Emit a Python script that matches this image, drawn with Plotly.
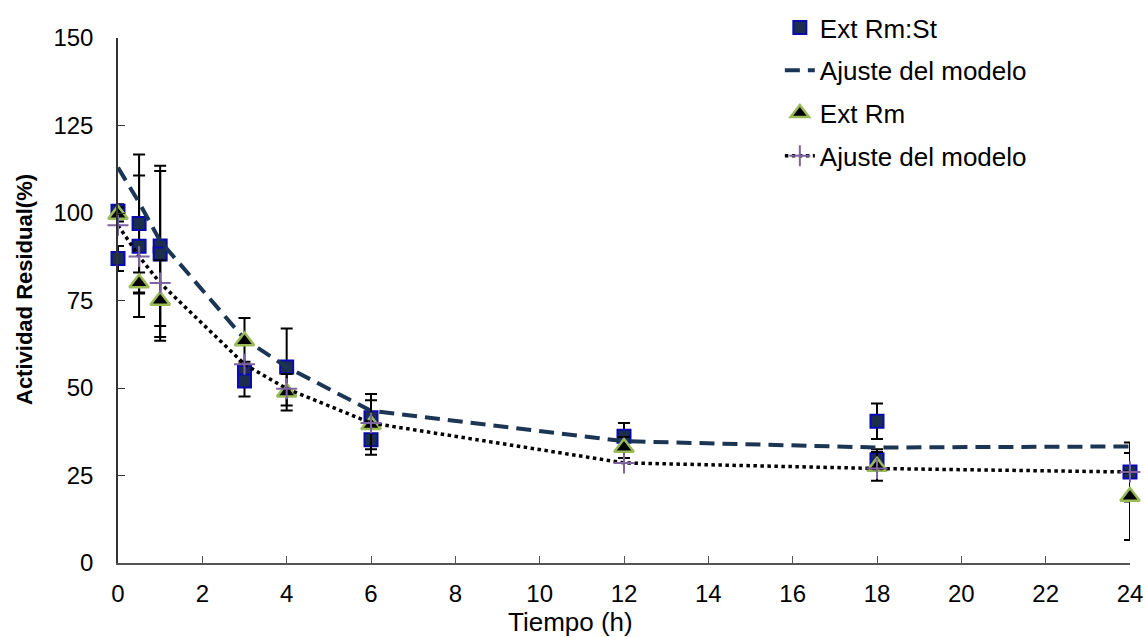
import plotly.graph_objects as go

# Ext Rm:St (squares) - replicate points, time (h), residual activity (%)
st_t = [0, 0, 0.5, 0.5, 1, 1, 3, 3, 4, 6, 6, 12, 18, 18, 24]
st_y = [100.5, 87, 97, 90.5, 90.6, 88.3, 54.5, 52, 56, 41.5, 35.2, 36.2, 40.5, 29.5, 26]
st_err = [2, 3.6, 19.7, 20.2, 22.9, 23.7, 3, 4.4, 11, 6.8, 4.3, 3.8, 5.1, 3, 8.4]

# Ext Rm (triangles)
rm_t = [0, 0.5, 1, 3, 4, 6, 12, 18, 24]
rm_y = [99.6, 80, 75, 63.4, 48.8, 39.5, 33, 27.6, 19]
rm_err = [2, 3, 11.5, 6.6, 5.2, 7, 3, 4.1, 12.4]

# Model fits
fit_t = [0, 0.5, 1, 3, 4, 6, 12, 18, 24]
fit_st = [113, 103, 92, 64, 56, 43.5, 34.8, 33, 33.3]
fit_rm = [96.5, 87.6, 80, 56.8, 49.8, 40, 28.6, 27, 26]

x_ticks = list(range(0, 25, 2))
y_ticks = [0, 25, 50, 75, 100, 125, 150]

FONT = "Liberation Sans, Arial, sans-serif"

L, R, T, B = 118, 16, 38, 74
W, H = 1146, 637
PW, PH = W - L - R, H - T - B

fig = go.Figure()

fig.add_trace(go.Scatter(
    x=st_t, y=st_y, mode="markers", name="Ext Rm:St",
    legendgroup="a",
    marker=dict(symbol="square", size=13, color="#1b2f4d",
                line=dict(color="#0a0ab0", width=2)),
    error_y=dict(type="data", array=st_err, visible=True, color="black",
                 thickness=2, width=6),
    cliponaxis=False,
))
fig.add_trace(go.Scatter(
    x=fit_t, y=fit_st, mode="lines", name="Ajuste del modelo",
    legendgroup="b",
    line=dict(color="#1b3554", width=4, dash="15px,8px"),
    cliponaxis=False,
))
fig.add_trace(go.Scatter(
    x=rm_t, y=rm_y, mode="markers", name="Ext Rm",
    legendgroup="c",
    marker=dict(symbol="triangle-up", size=17, color="black",
                line=dict(color="#9bbb59", width=2.5)),
    error_y=dict(type="data", array=rm_err, visible=True, color="black",
                 thickness=2, width=6),
    cliponaxis=False,
))
fig.add_trace(go.Scatter(
    x=fit_t, y=fit_rm, mode="lines+markers", name="Ajuste del modelo",
    legendgroup="d",
    line=dict(color="black", width=3.5, dash="dot"),
    marker=dict(symbol="cross-thin", size=15,
                line=dict(color="#8064a2", width=2)),
    cliponaxis=False,
))

fig.update_layout(
    width=W, height=H,
    margin=dict(l=L, r=R, t=T, b=B, autoexpand=False),
    paper_bgcolor="white", plot_bgcolor="white",
    font=dict(family=FONT, size=24, color="black"),
    showlegend=True,
    legend=dict(x=0.654, y=(563 - 4) / PH, xanchor="left", yanchor="top",
                bgcolor="rgba(0,0,0,0)", tracegroupgap=6,
                traceorder="grouped",
                font=dict(family=FONT, size=26)),
    xaxis=dict(range=[0, 24], tickvals=x_ticks, ticks="inside", ticklen=7,
               tickcolor="#555", showline=True, linecolor="#555", linewidth=1.5,
               showgrid=False, zeroline=False, tickfont=dict(size=24),
               ticklabelstandoff=8),
    yaxis=dict(range=[0, 150], tickvals=y_ticks, ticks="inside", ticklen=7,
               tickcolor="#333", showline=True, linecolor="#333", linewidth=1.5,
               showgrid=False, zeroline=False, tickfont=dict(size=24),
               ticklabelstandoff=18),
    annotations=[
        dict(text="Tiempo (h)", x=(570 - L) / PW, y=-(622 - 563) / PH,
             xref="paper", yref="paper", xanchor="center", yanchor="middle",
             showarrow=False, font=dict(size=26)),
        dict(text="<b>Actividad Residual(%)</b>", textangle=-90,
             x=-(L - 24) / PW, y=(563 - 290) / PH,
             xref="paper", yref="paper", xanchor="center", yanchor="middle",
             showarrow=False, font=dict(size=22)),
    ],
)

fig.write_html("out.html",
               config={"displayModeBar": False},
               post_script="document.body.style.margin='0';"
                           "document.body.style.overflow='hidden';")
